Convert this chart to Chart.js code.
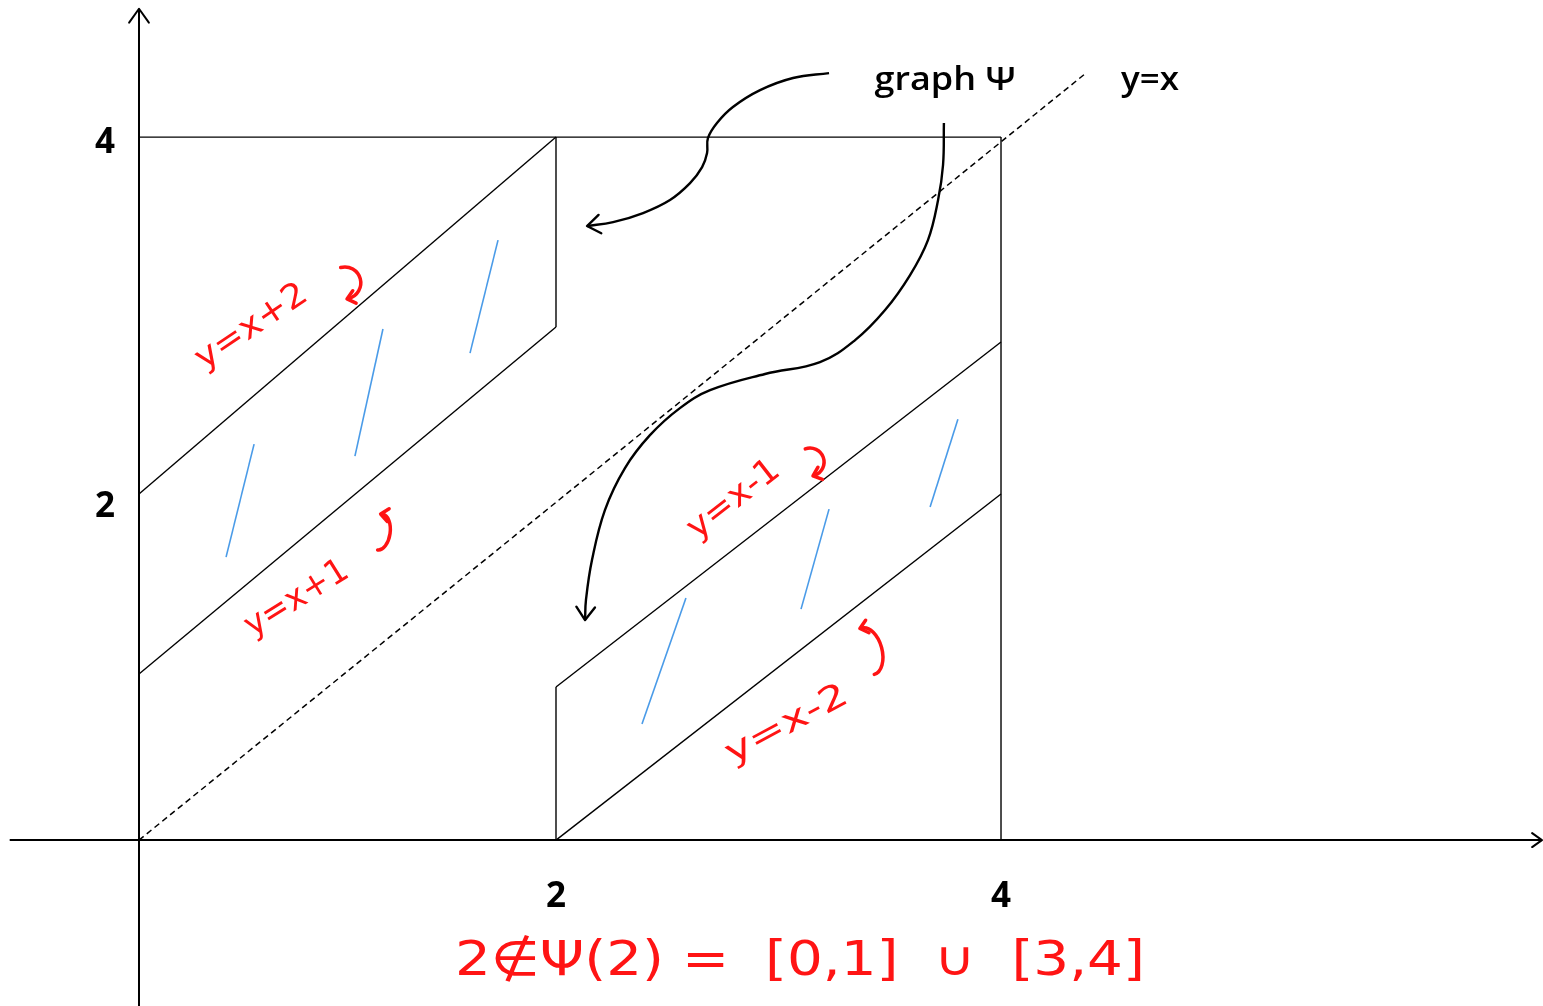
<!DOCTYPE html>
<html>
<head>
<meta charset="utf-8">
<script src="https://cdn.jsdelivr.net/npm/chart.js@4.4.1/dist/chart.umd.min.js"></script>
<style>
  html, body { margin: 0; padding: 0; background: #fff; }
  #wrap { width: 1543px; height: 1006px; position: relative; }
</style>
</head>
<body>
<div id="wrap"><canvas id="chart"></canvas></div>
<script>
// values (x and y in plot units, 0..4 box)
const xAxisLine = [[-0.60, 0], [6.51, 0]];
const yAxisLine = [[0, -0.95], [0, 4.73]];

const boxTop = [[0, 4.0], [4.0, 4.0]];
const boxRight = [[4.0, 0], [4.0, 4.0]];

const lineXplus2 = [[0, 1.969], [1.935, 4.0]];
const lineXplus1 = [[0, 0.945], [1.935, 2.919]];
const leftEdge = [[1.935, 2.919], [1.935, 4.0]];

const lineXminus1 = [[1.935, 0.871], [4.0, 2.834]];
const lineXminus2 = [[1.935, 0], [4.0, 1.969]];
const rightEdge = [[1.935, 0], [1.935, 0.871]];

const diagonal = [[0, 0], [4.39, 4.36]];

const hatches = [
  [[0.404, 1.610], [0.534, 2.253]],
  [[1.002, 2.185], [1.132, 2.908]],
  [[1.536, 2.771], [1.666, 3.414]],
  [[2.334, 0.660], [2.538, 1.377]],
  [[3.072, 1.314], [3.202, 1.883]],
  [[3.671, 1.895], [3.800, 2.395]]
];

const curveToLeft = [
  [3.202, 4.364], [3.035, 4.336], [2.882, 4.267], [2.756, 4.171], [2.682, 4.080],
  [2.640, 3.994], [2.636, 3.909], [2.613, 3.829], [2.557, 3.738], [2.464, 3.642],
  [2.339, 3.568], [2.200, 3.516], [2.079, 3.494]
];
const curveToRight = [
  [3.735, 4.080], [3.731, 3.841], [3.708, 3.642], [3.661, 3.414], [3.578, 3.215],
  [3.462, 3.016], [3.323, 2.845], [3.160, 2.720], [2.905, 2.652],
  [2.650, 2.560], [2.510, 2.458], [2.371, 2.304], [2.255, 2.117],
  [2.162, 1.878], [2.102, 1.593], [2.074, 1.366], [2.070, 1.252]
];

const xTickValues = [1.935, 4.0];
const xTickLabels = ['2', '4'];
const yTickValues = [1.895, 3.966];
const yTickLabels = ['2', '4'];

const RED = '#ff1414';
const notes = [
  { text: 'graph Ψ', x: 3.740, y: 4.324, width: 141, angle: 0, font: '600 33px "Open Sans"', color: '#000' },
  { text: 'y=x', x: 4.691, y: 4.324, width: 58, angle: 0, font: '600 33px "Open Sans"', color: '#000' },
  { text: 'y=x+2', x: 0.524, y: 2.919, width: 128, angle: -34, font: '34px "DejaVu Sans"', color: RED },
  { text: 'y=x+1', x: 0.733, y: 1.371, width: 116, angle: -32, font: '34px "DejaVu Sans"', color: RED },
  { text: 'y=x-1', x: 2.761, y: 1.935, width: 108, angle: -38, font: '34px "DejaVu Sans"', color: RED },
  { text: 'y=x-2', x: 3.007, y: 0.654, width: 134, angle: -28, font: '34px "DejaVu Sans"', color: RED },
  { text: '2∉Ψ(2) =  [0,1]  ∪  [3,4]', x: 3.067, y: -0.694, width: 690, angle: 0, font: '48px "DejaVu Sans"', color: RED }
];

// little curled arrows next to the red labels
const hooks = [
  { x: 0.955, y: 3.170, rx: 16, ry: 16, angle: -15, up: false },
  { x: 1.119, y: 1.752, rx: 10, ry: 18, angle: 8, up: true },
  { x: 3.114, y: 2.151, rx: 14, ry: 14, angle: -20, up: false },
  { x: 3.383, y: 1.075, rx: 14, ry: 24, angle: -15, up: true }
];

const pts = arr => arr.map(([x, y]) => ({ x, y }));

function seg(data, color, width, extra) {
  return Object.assign({
    data: pts(data),
    showLine: true,
    borderColor: color,
    borderWidth: width,
    pointRadius: 0,
    pointHoverRadius: 0,
    tension: 0,
    clip: false
  }, extra || {});
}

const datasets = [
  seg(xAxisLine, '#000', 2, { arrow: 12 }),
  seg(yAxisLine, '#000', 2, { arrow: 17 }),
  seg(boxTop, '#000', 1.4),
  seg(boxRight, '#000', 1.4),
  seg(lineXplus2, '#000', 1.4),
  seg(lineXplus1, '#000', 1.4),
  seg(leftEdge, '#000', 1.4),
  seg(lineXminus1, '#000', 1.4),
  seg(lineXminus2, '#000', 1.4),
  seg(rightEdge, '#000', 1.4),
  seg(diagonal, '#000', 1.5, { borderDash: [6, 4] }),
  ...hatches.map(h => seg(h, '#4a9be8', 1.6)),
  seg(curveToLeft, '#000', 2.4, { tension: 0.4, arrow: 16 }),
  seg(curveToRight, '#000', 2.4, { tension: 0.4, arrow: 16 })
];

function arrowHead(ctx, tx, ty, ang, len, spread) {
  ctx.beginPath();
  ctx.moveTo(tx - len * Math.cos(ang - spread), ty - len * Math.sin(ang - spread));
  ctx.lineTo(tx, ty);
  ctx.lineTo(tx - len * Math.cos(ang + spread), ty - len * Math.sin(ang + spread));
  ctx.stroke();
}

const sketchPlugin = {
  id: 'sketch',
  afterDatasetsDraw(chart) {
    const { ctx, scales: { x, y } } = chart;

    // open arrow heads at the end of marked lines
    chart.data.datasets.forEach((ds, i) => {
      if (!ds.arrow) return;
      const el = chart.getDatasetMeta(i).data;
      const a = el[el.length - 2], b = el[el.length - 1];
      ctx.save();
      ctx.strokeStyle = ds.borderColor;
      ctx.lineWidth = ds.borderWidth;
      ctx.lineCap = 'round';
      ctx.lineJoin = 'round';
      arrowHead(ctx, b.x, b.y, Math.atan2(b.y - a.y, b.x - a.x), ds.arrow, 0.62);
      ctx.restore();
    });

    // tick labels
    ctx.save();
    ctx.fillStyle = '#000';
    ctx.font = 'bold 35px "Open Sans"';
    ctx.textBaseline = 'middle';
    ctx.textAlign = 'center';
    const y0 = y.getPixelForValue(0);
    xTickValues.forEach((v, i) => ctx.fillText(xTickLabels[i], x.getPixelForValue(v), y0 + 57));
    ctx.textAlign = 'right';
    const x0 = x.getPixelForValue(0);
    yTickValues.forEach((v, i) => ctx.fillText(yTickLabels[i], x0 - 24, y.getPixelForValue(v)));
    ctx.restore();

    // notes
    notes.forEach(n => {
      ctx.save();
      ctx.translate(x.getPixelForValue(n.x), y.getPixelForValue(n.y));
      ctx.rotate(n.angle * Math.PI / 180);
      ctx.font = n.font;
      ctx.fillStyle = n.color;
      ctx.textAlign = 'center';
      ctx.textBaseline = 'middle';
      const w = ctx.measureText(n.text).width;
      ctx.scale(n.width / w, 1);
      ctx.fillText(n.text, 0, 0);
      ctx.restore();
    });

    // hooks
    hooks.forEach(h => {
      ctx.save();
      ctx.translate(x.getPixelForValue(h.x), y.getPixelForValue(h.y));
      ctx.rotate(h.angle * Math.PI / 180);
      ctx.strokeStyle = RED;
      ctx.lineWidth = 3.5;
      ctx.lineCap = 'round';
      ctx.lineJoin = 'round';
      ctx.beginPath();
      ctx.ellipse(0, 0, h.rx, h.ry, 0, -Math.PI / 2, Math.PI / 2);
      ctx.stroke();
      const ty = h.up ? -h.ry : h.ry;
      arrowHead(ctx, -2, ty, Math.PI, 10, 0.7);
      ctx.restore();
    });
  }
};

new Chart(document.getElementById('chart'), {
  type: 'scatter',
  data: { datasets },
  options: {
    responsive: true,
    maintainAspectRatio: false,
    animation: false,
    layout: { padding: 0 },
    events: [],
    plugins: {
      legend: { display: false },
      tooltip: { enabled: false }
    },
    scales: {
      x: { type: 'linear', display: false, min: -0.645, max: 6.515 },
      y: { type: 'linear', display: false, min: -0.944, max: 4.780 }
    }
  },
  plugins: [sketchPlugin]
});
</script>
</body>
</html>
